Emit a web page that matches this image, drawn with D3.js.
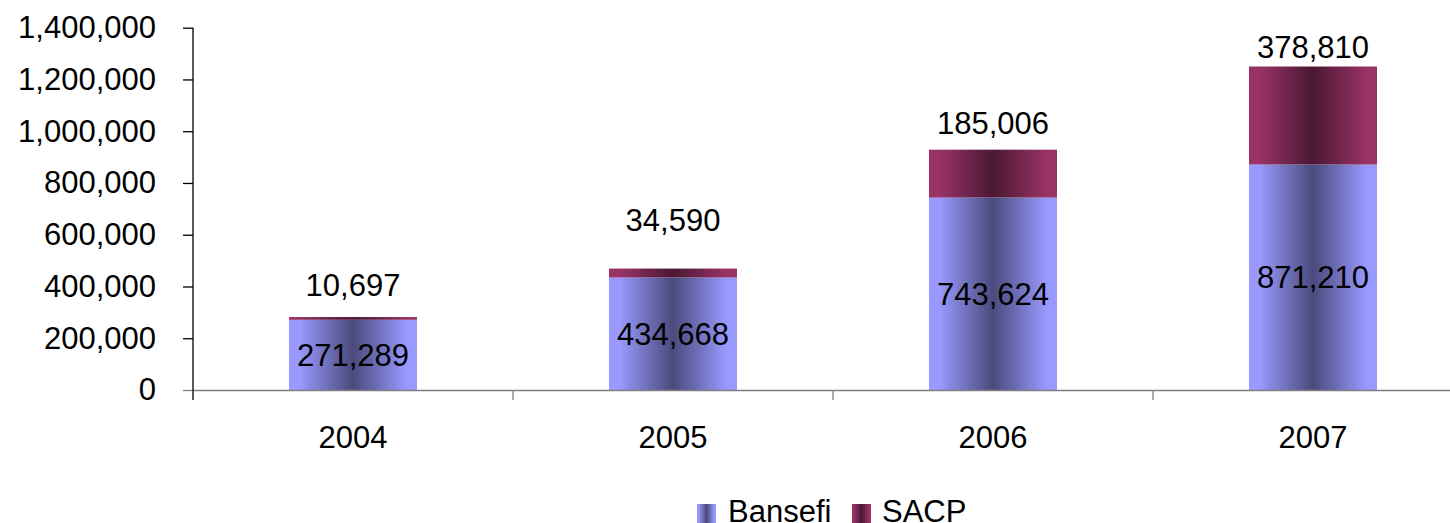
<!DOCTYPE html>
<html><head><meta charset="utf-8">
<script src="https://cdn.jsdelivr.net/npm/d3@7"></script>
<style>
html,body{margin:0;padding:0;background:#fff;overflow:hidden}
svg{display:block;font-family:"Liberation Sans",Arial,sans-serif}
</style></head>
<body>
<svg id="chart" width="1450" height="523"></svg>
<script>
const categories = ["2004", "2005", "2006", "2007"];
const bansefi = [271289, 434668, 743624, 871210];
const sacp = [10697, 34590, 185006, 378810];
const seriesNames = ["Bansefi", "SACP"];
const yTicks = [0, 200000, 400000, 600000, 800000, 1000000, 1200000, 1400000];

// layout (not data): manual offsets of SACP labels above the bar tops (px)
const sacpLabelLift = [32, 48, 27, 19];

const svg = d3.select("#chart");
const plotLeft = 193, plotRight = 1473, plotTop = 27.7, plotBottom = 390;
const fs = 31;

const x = d3.scaleBand().domain(categories).range([plotLeft, plotRight]).padding(0);
const y = d3.scaleLinear().domain([0, 1400000]).range([plotBottom, plotTop]);
const barW = x.bandwidth() / 2.5;

const defs = svg.append("defs");
function grad(id, edge, mid) {
  const g = defs.append("linearGradient").attr("id", id).attr("x1", "0%").attr("x2", "100%").attr("y1", "0%").attr("y2", "0%");
  g.append("stop").attr("offset", "0%").attr("stop-color", edge);
  g.append("stop").attr("offset", "8%").attr("stop-color", edge);
  g.append("stop").attr("offset", "50%").attr("stop-color", mid);
  g.append("stop").attr("offset", "92%").attr("stop-color", edge);
  g.append("stop").attr("offset", "100%").attr("stop-color", edge);
}
grad("gB", "#9999ff", "#4a4a7c");
grad("gS", "#993366", "#4a1833");

const stackData = categories.map((c, i) => ({ cat: c, Bansefi: bansefi[i], SACP: sacp[i] }));
const stacked = d3.stack().keys(seriesNames)(stackData);
const fills = { Bansefi: "url(#gB)", SACP: "url(#gS)" };

// y axis
const yAxis = svg.append("g").attr("transform", `translate(${plotLeft},0)`)
  .call(d3.axisLeft(y).tickValues(yTicks).tickFormat(d3.format(",")).tickSize(10).tickPadding(27).tickSizeOuter(0));
yAxis.select(".domain").remove();
yAxis.selectAll(".tick line").attr("stroke", d => d === 0 ? "#808080" : "#000").attr("stroke-width", 1.3);
yAxis.selectAll("text").attr("font-size", fs).attr("fill", "#000").attr("font-family", "Liberation Sans, Arial, sans-serif");

// bars
stacked.forEach(s => {
  svg.append("g").selectAll("rect").data(s).join("rect")
    .attr("x", d => x(d.data.cat) + (x.bandwidth() - barW) / 2)
    .attr("width", barW)
    .attr("y", d => y(d[1]))
    .attr("height", d => y(d[0]) - y(d[1]))
    .attr("fill", fills[s.key]);
});

// x axis
const xAxis = svg.append("g").attr("transform", `translate(0,${plotBottom})`)
  .call(d3.axisBottom(x).tickSize(0).tickPadding(36).tickSizeOuter(0));
xAxis.select(".domain").attr("stroke", "#808080").attr("stroke-width", 1.3);
xAxis.selectAll("text").attr("font-size", fs).attr("fill", "#000").attr("font-family", "Liberation Sans, Arial, sans-serif");
xAxis.selectAll(".bound").data(categories.slice(1)).join("line").attr("class", "bound")
  .attr("x1", d => x(d)).attr("x2", d => x(d)).attr("y1", 0).attr("y2", 10)
  .attr("stroke", "#808080").attr("stroke-width", 1.3);

// y axis line
svg.append("line").attr("x1", plotLeft).attr("x2", plotLeft).attr("y1", y(1400000)).attr("y2", plotBottom + 10)
  .attr("stroke", "#000").attr("stroke-width", 1.3);

// labels
const fmt = d3.format(",");
svg.append("g").selectAll("text").data(stacked[0]).join("text")
  .attr("x", d => x(d.data.cat) + x.bandwidth() / 2)
  .attr("y", d => (y(d[0]) + y(d[1])) / 2)
  .attr("dy", "0.35em").attr("text-anchor", "middle").attr("font-size", fs).attr("fill", "#000")
  .text(d => fmt(d.data.Bansefi));
svg.append("g").selectAll("text").data(stacked[1]).join("text")
  .attr("x", d => x(d.data.cat) + x.bandwidth() / 2)
  .attr("y", (d, i) => y(d[1]) - sacpLabelLift[i])
  .attr("dy", "0.35em").attr("text-anchor", "middle").attr("font-size", fs).attr("fill", "#000")
  .text(d => fmt(d.data.SACP));

// legend
const legend = svg.append("g");
const legendPos = [{ sx: 697, tx: 728 }, { sx: 852, tx: 882 }];
seriesNames.forEach((n, i) => {
  legend.append("rect").attr("x", legendPos[i].sx).attr("y", 504).attr("width", 19).attr("height", 19).attr("fill", fills[n]);
  legend.append("text").attr("x", legendPos[i].tx).attr("y", 522).attr("font-size", fs).attr("fill", "#000").text(n);
});
</script>
</body></html>
